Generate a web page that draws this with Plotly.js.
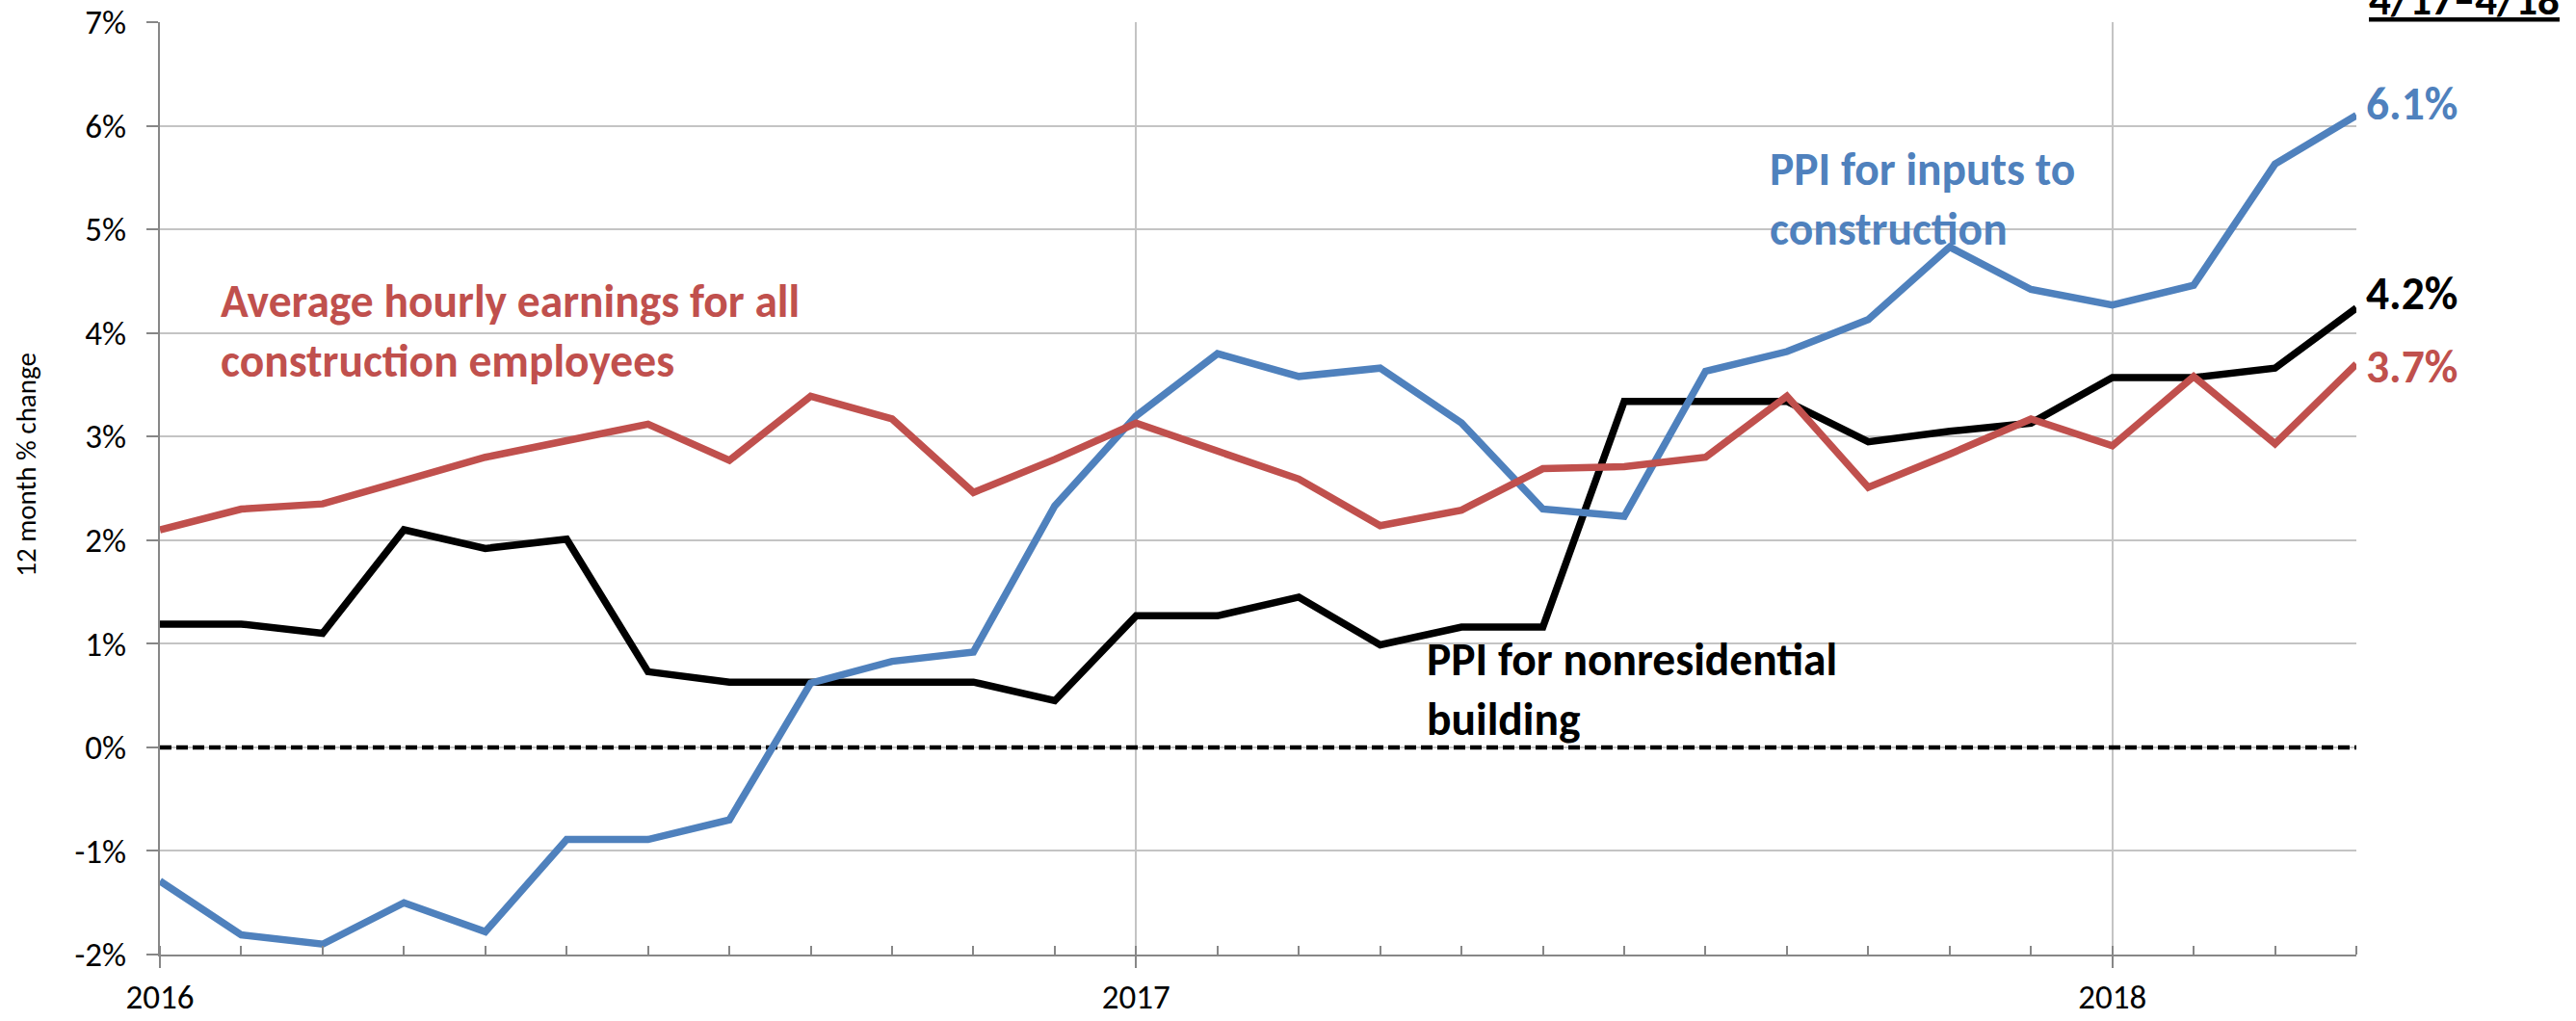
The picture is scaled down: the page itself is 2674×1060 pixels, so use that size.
<!DOCTYPE html>
<html>
<head>
<meta charset="utf-8">
<script src="https://cdn.plot.ly/plotly-3.0.1.min.js"></script>
<style>
  html, body { margin: 0; padding: 0; background: #ffffff; }
  #chart { width: 2674px; height: 1060px; }
</style>
</head>
<body>
<div id="chart"></div>
<script>
// ---- Data (12-month % change) ----
const months = [
  'Jan 2016','Feb 2016','Mar 2016','Apr 2016','May 2016','Jun 2016',
  'Jul 2016','Aug 2016','Sep 2016','Oct 2016','Nov 2016','Dec 2016',
  'Jan 2017','Feb 2017','Mar 2017','Apr 2017','May 2017','Jun 2017',
  'Jul 2017','Aug 2017','Sep 2017','Oct 2017','Nov 2017','Dec 2017',
  'Jan 2018','Feb 2018','Mar 2018','Apr 2018'
];
const hourlyEarnings = [2.10, 2.30, 2.35, 2.57, 2.80, 2.96, 3.12, 2.77, 3.39, 3.17, 2.46, 2.78,
                        3.13, 2.86, 2.59, 2.14, 2.29, 2.69, 2.71, 2.80, 3.39, 2.51, 2.83, 3.17,
                        2.91, 3.58, 2.93, 3.70];
const ppiNonresidential = [1.19, 1.19, 1.10, 2.10, 1.92, 2.01, 0.73, 0.63, 0.63, 0.63, 0.63, 0.45,
                           1.27, 1.27, 1.45, 0.99, 1.16, 1.16, 3.34, 3.34, 3.34, 2.95, 3.05, 3.13,
                           3.57, 3.57, 3.66, 4.24];
const ppiInputs = [-1.29, -1.81, -1.90, -1.50, -1.78, -0.89, -0.89, -0.70, 0.62, 0.83, 0.92, 2.33,
                   3.20, 3.80, 3.58, 3.66, 3.13, 2.30, 2.23, 3.63, 3.82, 4.13, 4.83, 4.42,
                   4.27, 4.46, 5.63, 6.10];
const yTickVals = [-2, -1, 0, 1, 2, 3, 4, 5, 6, 7];
const yTickLabels = ['-2%', '-1%', '0%', '1%', '2%', '3%', '4%', '5%', '6%', '7%'];
const yearLabels = ['2016', '2017', '2018'];
const periodLabel = '4/17\u20134/18';
const yAxisTitle = '12 month % change';

// ---- Styling ----
const FONT = "Carlito, 'Liberation Sans Narrow', 'Open Sans', sans-serif";
const RED = '#C0504D', BLUE = '#4F81BD', BLACK = '#000000';
const GRID = '#C4C4C4', AXIS = '#878787';
const LABEL_SIZE = 47.5;

const xIdx = months.map((m, i) => i);
const yearTickVals = months.map((m, i) => m.startsWith('Jan') ? i : null).filter(v => v !== null);
const first = xIdx[0];
const last = xIdx[xIdx.length - 1];

function lineTrace(y, color, name) {
  return {
    type: 'scatter', mode: 'lines', x: xIdx, y: y, name: name,
    line: { color: color, width: 7.5, shape: 'linear' },
    hoverinfo: 'skip'
  };
}

const traces = [
  lineTrace(ppiNonresidential, BLACK, 'PPI for nonresidential building'),
  lineTrace(ppiInputs, BLUE, 'PPI for inputs to construction'),
  lineTrace(hourlyEarnings, RED, 'Average hourly earnings')
];

const lbl = (v) => v[v.length - 1].toFixed(1) + '%';

const annotations = [
  { x: 0.72, y: 4.02, xref: 'x', yref: 'y', xanchor: 'left', yanchor: 'middle', align: 'left',
    text: '<b>Average hourly earnings for all<br>construction employees</b>',
    showarrow: false, font: { family: FONT, size: LABEL_SIZE, color: RED } },
  { x: 19.76, y: 5.29, xref: 'x', yref: 'y', xanchor: 'left', yanchor: 'middle', align: 'left',
    text: '<b>PPI for inputs to<br>construction</b>',
    showarrow: false, font: { family: FONT, size: LABEL_SIZE, color: BLUE } },
  { x: 15.55, y: 0.56, xref: 'x', yref: 'y', xanchor: 'left', yanchor: 'middle', align: 'left',
    text: '<b>PPI for nonresidential<br>building</b>',
    showarrow: false, font: { family: FONT, size: LABEL_SIZE, color: BLACK } },
  { x: last, y: 6.21, xref: 'x', yref: 'y', xanchor: 'left', yanchor: 'middle', xshift: 8,
    text: '<b>' + lbl(ppiInputs) + '</b>', showarrow: false,
    font: { family: FONT, size: LABEL_SIZE, color: BLUE } },
  { x: last, y: 4.375, xref: 'x', yref: 'y', xanchor: 'left', yanchor: 'middle', xshift: 8,
    text: '<b>' + lbl(ppiNonresidential) + '</b>', showarrow: false,
    font: { family: FONT, size: LABEL_SIZE, color: BLACK } },
  { x: last, y: 3.668, xref: 'x', yref: 'y', xanchor: 'left', yanchor: 'middle', xshift: 8,
    text: '<b>' + lbl(hourlyEarnings) + '</b>', showarrow: false,
    font: { family: FONT, size: LABEL_SIZE, color: RED } },
  { x: 1, y: 1.0245, xref: 'paper', yref: 'paper', xanchor: 'left', yanchor: 'middle', xshift: 11,
    text: '<b><u>' + periodLabel + '</u></b>', showarrow: false,
    font: { family: FONT, size: 45, color: BLACK } },
  { x: 0, y: 0.525, xref: 'paper', yref: 'paper', xanchor: 'center', yanchor: 'middle', xshift: -139,
    text: yAxisTitle, textangle: -90, showarrow: false,
    font: { family: FONT, size: 29, color: BLACK } }
];

const layout = {
  width: 2674, height: 1060,
  margin: { l: 166, r: 228, t: 23, b: 69, pad: 0 },
  paper_bgcolor: '#ffffff', plot_bgcolor: '#ffffff',
  showlegend: false,
  font: { family: FONT, size: 35, color: BLACK },
  xaxis: {
    type: 'linear', range: [first, last], fixedrange: true,
    tickmode: 'array', tickvals: yearTickVals, ticktext: yearLabels,
    ticks: 'outside', ticklen: 12, tickwidth: 2, tickcolor: AXIS,
    ticklabelstandoff: 0,
    showgrid: true, gridcolor: GRID, gridwidth: 2,
    showline: true, linecolor: AXIS, linewidth: 2,
    zeroline: false,
    tickfont: { family: FONT, size: 35, color: BLACK },
    minor: { dtick: 1, tick0: 0, ticks: 'inside', ticklen: 9, tickwidth: 2, tickcolor: AXIS, showgrid: false }
  },
  yaxis: {
    range: [-2, 7], fixedrange: true,
    tickmode: 'array', tickvals: yTickVals, ticktext: yTickLabels,
    ticks: 'outside', ticklen: 12, tickwidth: 2, tickcolor: AXIS,
    ticklabelstandoff: 14,
    showgrid: true, gridcolor: GRID, gridwidth: 2,
    showline: true, linecolor: AXIS, linewidth: 2,
    zeroline: false,
    tickfont: { family: FONT, size: 35, color: BLACK }
  },
  shapes: [
    { type: 'line', xref: 'x', x0: first, x1: last, yref: 'y', y0: 0, y1: 0, layer: 'between',
      line: { color: BLACK, width: 4.5, dash: '12px,5px' } }
  ],
  annotations: annotations
};

Plotly.newPlot('chart', traces, layout, { staticPlot: true, displayModeBar: false });
</script>
</body>
</html>
